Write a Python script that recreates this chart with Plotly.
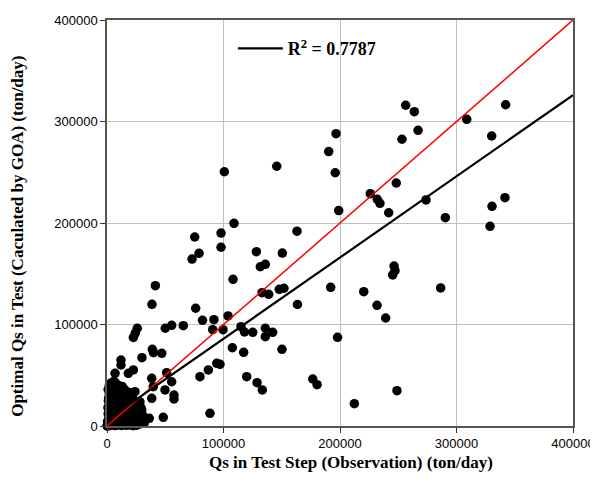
import plotly.graph_objects as go

# Observed Qs (x) and GOA-calculated Qs (y), ton/day -- sparse points
obs_sparse = [100700, 145700, 196600, 190300, 195900, 198900, 75300, 97900, 109000, 97900,
              79000, 73000, 41500, 38600, 76100, 108200, 128200, 131600, 135900, 150500,
              163100, 133100, 138800, 147900, 151900, 163500, 192000, 82000, 91800, 90700,
              99600, 103900, 115000, 118000, 125100, 135900, 142200, 135900, 197900, 50000,
              55500, 65500, 26000, 24300, 22600, 256400, 263800, 267000, 253200, 248300,
              226000, 232000, 234300, 241800, 273800, 290400, 308800, 246400, 247200, 245200,
              220400, 231800, 239200, 286400, 342200, 330200, 341600, 330500, 328800, 107600,
              117300, 150200, 119900, 128800, 133300, 176600, 180300, 212300, 248900, 97000,
              38900, 39900, 47000, 30000, 12000, 12000, 22600, 38400, 39700, 49800,
              55500, 51200, 38400, 57500, 57500, 36300, 48300, 79800, 87000, 94200,
              88400, 29800, 28300, 24000, 18300, 6900, 5400]
calc_sparse = [250500, 255900, 288000, 270400, 249500, 212300, 186200, 190100, 199700, 176100,
               170100, 164500, 138200, 119900, 116000, 144500, 171700, 156900, 159300, 170400,
               191900, 131300, 129700, 134700, 135700, 119700, 136600, 104100, 104700, 94900,
               94900, 108400, 97800, 92600, 92300, 96300, 92300, 88000, 87400, 96300,
               99200, 98800, 96300, 91600, 87200, 316000, 309700, 291300, 282500, 239400,
               228900, 223300, 219400, 210100, 222700, 205200, 302200, 157600, 153000, 148800,
               132300, 118900, 106400, 136000, 316500, 285700, 224900, 216400, 196700, 77100,
               72600, 75600, 48600, 42700, 35500, 46300, 40700, 22000, 34800, 60800,
               75600, 72200, 71600, 67300, 65000, 60100, 55200, 47000, 38700, 35500,
               43600, 52500, 27300, 30500, 26600, 7600, 8600, 48600, 55200, 61800,
               12500, 15800, 23900, 33800, 51900, 51900, 43600]

# dense cluster near the origin (thousand ton/day)
obs_cluster_k = [0.5, 1, 2, 1.5, 3, 2.5, 4, 1, 3.5, 5, 6, 0.8, 2, 4.5, 6.5, 7, 8, 1.2, 3, 5.5,
                 7.5, 9, 10, 2, 4, 6, 8, 10, 11, 12, 1, 3, 5, 7, 9, 11, 13, 14, 2, 6,
                 8, 10, 12, 14, 15, 16, 9, 11, 13, 15, 17, 18, 12, 14, 16, 18, 20, 21, 17, 19,
                 21, 23, 24, 20, 22, 24, 26, 23, 25, 27, 28, 26, 28, 30, 29, 31, 32, 0.3, 0.5, 1.8,
                 3.2, 5, 2.2, 4, 6, 8, 1.5, 5, 7, 9, 11, 13, 3, 10, 7, 15, 19, 13, 22, 0.2,
                 0.4, 0.6, 1.1, 2.7, 4.2, 6.8, 8.5, 12.5, 16.5, 19.5, 22.5, 25.5, 0.7, 3.8, 9.5, 14.5]
calc_cluster_k = [1, 3, 0.5, 6, 2, 9, 4, 12, 14, 7, 2, 18, 21, 17, 11, 5, 1, 25, 28, 23,
                  15, 8, 3, 32, 35, 30, 20, 13, 6, 1, 36, 38, 37, 33, 26, 18, 10, 4, 40, 39,
                  36, 31, 23, 15, 8, 2, 37, 34, 28, 20, 12, 5, 36, 33, 25, 17, 9, 3, 30, 22,
                  14, 6, 1, 27, 19, 11, 5, 24, 16, 9, 2, 21, 13, 6, 18, 10, 3, 0.2, 4.5, 8,
                  5.5, 12, 15, 20, 16, 10, 28, 26, 23, 18, 12, 20, 42, 40, 43, 36, 33, 39, 30, 0.1,
                  0.3, 0.8, 1.5, 0.6, 1.2, 0.4, 0.9, 0.5, 0.7, 1.1, 0.3, 0.8, 2.5, 2.2, 2.8, 1.9]

obs = obs_sparse + [v * 1000 for v in obs_cluster_k]
calc = calc_sparse + [v * 1000 for v in calc_cluster_k]

# regression line and 1:1 line
trend_slope = 0.80
trend_intercept = 6000
line_x = [0, 400000]
trend_y = [trend_intercept + trend_slope * v for v in line_x]
r2_label = "R<sup>2</sup> = 0.7787"

x_title = "Qs in Test Step (Observation) (ton/day)"
y_title = "Optimal Qs in Test (Caculated by GOA) (ton/day)"
x_ticks = [0, 100000, 200000, 300000, 400000]
y_ticks = [0, 100000, 200000, 300000, 400000]

fig = go.Figure()
fig.add_trace(go.Scatter(x=obs, y=calc, mode="markers",
                         marker=dict(color="black", size=9.5, line=dict(width=0)),
                         showlegend=False, cliponaxis=False))
fig.add_trace(go.Scatter(x=line_x, y=line_x, mode="lines",
                         line=dict(color="#ff0000", width=1.5), showlegend=False))
fig.add_trace(go.Scatter(x=line_x, y=trend_y, mode="lines",
                         line=dict(color="black", width=2.2),
                         name="<b>" + r2_label + "</b>", showlegend=True))

serif = "Liberation Serif, Times New Roman, serif"
sans = "Liberation Sans, Arial, sans-serif"

axis_common = dict(
    range=[0, 400000], automargin=False,
    showgrid=True, gridcolor="#c0c0c0", gridwidth=1,
    showline=True, linecolor="#555555", linewidth=1.5, mirror=True,
    ticks="outside", ticklen=5, tickcolor="#333333", tickwidth=1,
    zeroline=False, tickfont=dict(family=sans, size=13, color="black"),
)

title_font = dict(family=serif, size=17, color="black")

fig.update_layout(
    width=590, height=488,
    margin=dict(l=99, r=25, t=12, b=70),
    paper_bgcolor="white", plot_bgcolor="white",
    xaxis=dict(**axis_common, tickvals=x_ticks, ticktext=[str(v) for v in x_ticks]),
    yaxis=dict(**axis_common, tickvals=y_ticks, ticktext=[str(v) for v in y_ticks]),
    legend=dict(x=0.27, y=0.975, xanchor="left", yanchor="top",
                bgcolor="rgba(0,0,0,0)", borderwidth=0, itemwidth=45,
                font=dict(family=serif, size=18, color="black")),
    annotations=[
        dict(text="<b>" + x_title + "</b>", xref="paper", yref="paper",
             x=0.523, y=0, xanchor="center", yanchor="middle", yshift=-36,
             showarrow=False, font=title_font),
        dict(text="<b>" + y_title + "</b>", xref="paper", yref="paper",
             x=0, y=0.466, xanchor="center", yanchor="middle", xshift=-89,
             textangle=-90, showarrow=False, font=title_font),
    ],
)

fig.write_html("out.html")
